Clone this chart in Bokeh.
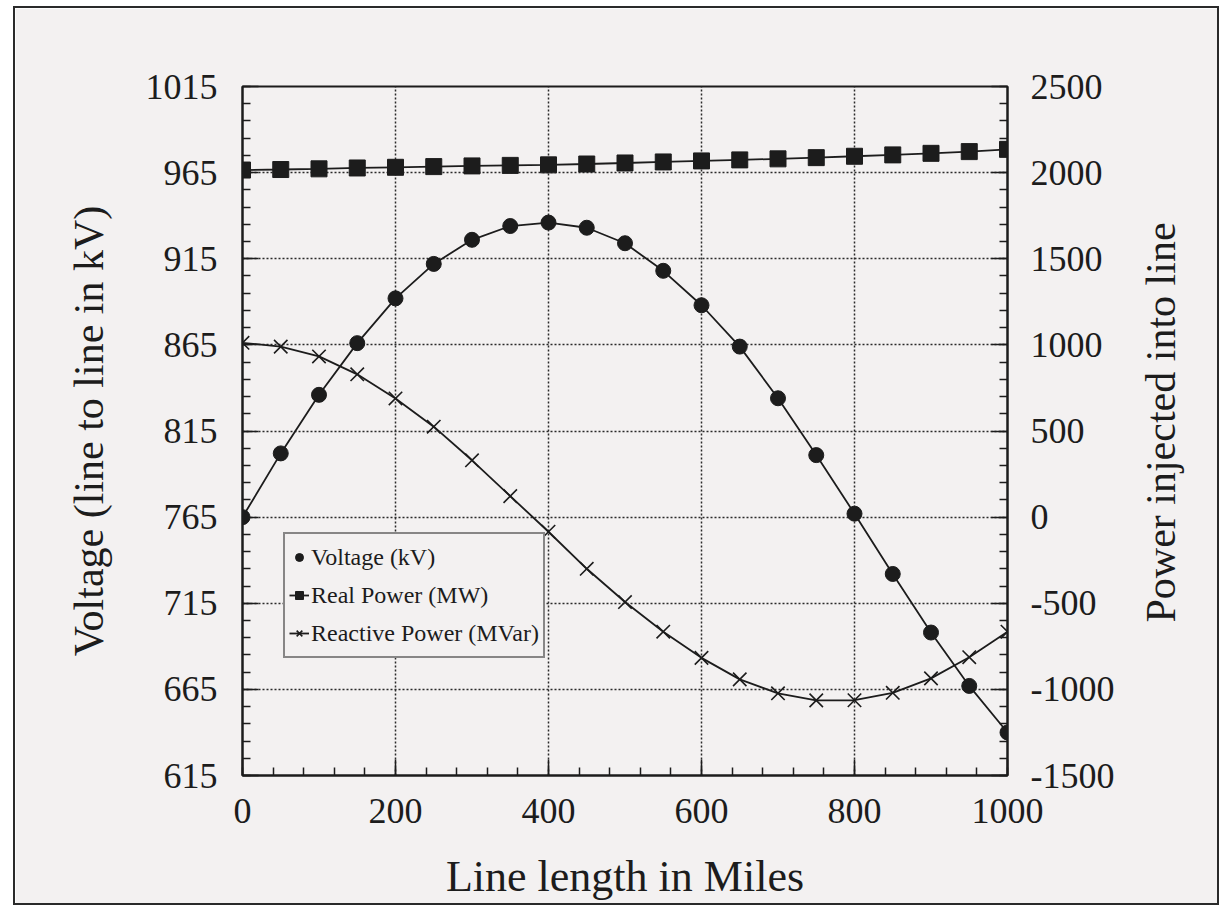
import math
from bokeh.plotting import figure
from bokeh.models import (Range1d, LinearAxis, FixedTicker, SingleIntervalTicker,
                          PrintfTickFormatter, Legend, LegendItem)
from bokeh.embed import file_html
from bokeh.resources import INLINE

# ---------------- data ----------------
miles = [0, 50, 100, 150, 200, 250, 300, 350, 400, 450, 500,
         550, 600, 650, 700, 750, 800, 850, 900, 950, 1000]
voltage_kv = [765, 802, 836, 866, 892, 912, 926, 934, 936, 933, 924,
              908, 888, 864, 834, 801, 767, 732, 698, 667, 640]
real_power_mw = [2015, 2018, 2022, 2027, 2031, 2035, 2039, 2042, 2045, 2050, 2056,
                 2062, 2068, 2074, 2080, 2087, 2095, 2103, 2112, 2122, 2135]
reactive_power_mvar = [1012, 990, 933, 829, 689, 525, 330, 122, -85, -300, -493,
                       -665, -817, -942, -1023, -1064, -1063, -1020, -936, -813, -665]

left_ticks = [615, 665, 715, 765, 815, 865, 915, 965, 1015]
left_minor = list(range(615, 1016, 10))
x_label = "Line length in Miles"
left_label = "Voltage (line to line in kV)"
right_label = "Power injected into line"
legend_labels = ["Voltage (kV)", "Real Power (MW)", "Reactive Power (MVar)"]

# ---------------- style ----------------
BG = "#f3f1f1"
INK = "#1c1c1c"
FONT = "Liberation Serif"
W, H = 1206, 899

p = figure(width=W, height=H, output_backend="svg", toolbar_location=None,
           x_range=Range1d(0, 1000), y_range=Range1d(615, 1015),
           min_border_left=227, min_border_top=78, min_border_right=214,
           min_border_bottom=132)
p.styles = {"border": "2px solid #2a2a2a", "margin-left": "13px", "margin-top": "6px"}
p.background_fill_color = BG
p.border_fill_color = BG
p.outline_line_color = INK
p.outline_line_width = 2
p.extra_y_ranges = {"power": Range1d(-1500, 2500)}

# axes
xa = p.xaxis[0]
xa.ticker = SingleIntervalTicker(interval=200, num_minor_ticks=5)
ya = p.yaxis[0]
ya.ticker = FixedTicker(ticks=left_ticks, minor_ticks=left_minor)
ra = LinearAxis(y_range_name="power",
                ticker=SingleIntervalTicker(interval=500, num_minor_ticks=5),
                formatter=PrintfTickFormatter(format="%d"))
p.add_layout(ra, "right")

for ax in (xa, ya, ra):
    ax.axis_line_color = INK
    ax.axis_line_width = 2
    ax.major_tick_line_color = INK
    ax.minor_tick_line_color = INK
    ax.major_tick_line_width = 1.5
    ax.minor_tick_line_width = 1.5
    ax.major_tick_in = 16
    ax.major_tick_out = 0
    ax.minor_tick_in = 8
    ax.minor_tick_out = 0
    ax.major_label_text_font = FONT
    ax.major_label_text_font_size = "36px"
    ax.major_label_text_color = INK
    ax.axis_label_text_font = FONT
    ax.axis_label_text_font_style = "normal"
    ax.axis_label_text_color = INK

xa.axis_label = x_label
xa.axis_label_text_font_size = "44px"
xa.major_label_standoff = 23
xa.axis_label_standoff = 26
ya.axis_label = left_label
ya.axis_label_text_font_size = "42px"
ya.major_label_standoff = 25
ya.axis_label_standoff = 31
ra.major_label_standoff = 23

# right-hand title, written bottom-to-top beside the right axis
# (the rotated label starts at this position on the power scale)
title_start = -612
rt = LinearAxis(y_range_name="power", ticker=FixedTicker(ticks=[title_start], minor_ticks=[]),
                major_label_overrides={title_start: right_label},
                major_label_orientation=math.pi / 2)
rt.axis_line_color = None
rt.major_tick_line_color = None
rt.minor_tick_line_color = None
rt.major_tick_in = 0
rt.major_tick_out = 0
rt.minor_tick_in = 0
rt.minor_tick_out = 0
rt.major_label_standoff = 44
rt.major_label_text_font = FONT
rt.major_label_text_font_size = "42px"
rt.major_label_text_color = INK
p.add_layout(rt, "right")

# grid
for g in (p.xgrid[0], p.ygrid[0]):
    g.grid_line_color = "#2a2a2a"
    g.grid_line_width = 1.5
    g.grid_line_dash = "2 2"
p.xgrid[0].ticker = xa.ticker
p.ygrid[0].ticker = ya.ticker

# series
lv = p.line(miles, voltage_kv, line_color=INK, line_width=1.8)
sv = p.scatter(miles, voltage_kv, marker="circle", size=15,
               fill_color=INK, line_color=INK)

lp = p.line(miles, real_power_mw, y_range_name="power", line_color=INK, line_width=1.8)
sp = p.scatter(miles, real_power_mw, y_range_name="power", marker="square", size=16,
               fill_color=INK, line_color=INK)

lq = p.line(miles, reactive_power_mvar, y_range_name="power", line_color=INK, line_width=1.8)
sq = p.scatter(miles, reactive_power_mvar, y_range_name="power", marker="x", size=19,
               line_color=INK, line_width=1.6)

legend = Legend(items=[
    LegendItem(label=legend_labels[0], renderers=[sv]),
    LegendItem(label=legend_labels[1], renderers=[lp, sp]),
    LegendItem(label=legend_labels[2], renderers=[lq, sq]),
], location=(41, 117))
legend.margin = 0
legend.padding = 4
legend.spacing = 0
legend.glyph_width = 20
legend.glyph_height = 30
legend.label_height = 38
legend.label_standoff = 2
legend.label_text_font = FONT
legend.label_text_font_size = "24px"
legend.label_text_color = INK
legend.border_line_color = INK
legend.border_line_width = 2
legend.background_fill_color = BG
legend.background_fill_alpha = 1.0
p.add_layout(legend, "center")

open("out.html", "w").write(file_html(p, INLINE))
